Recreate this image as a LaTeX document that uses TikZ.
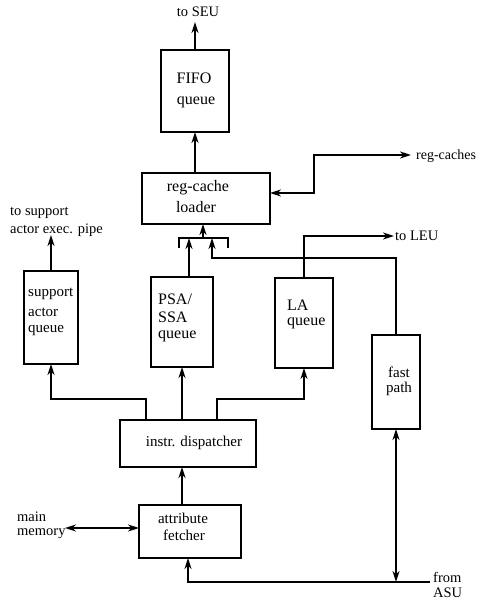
\documentclass[tikz,border=0pt]{standalone}
\usepackage{fontspec}
\setmainfont{Liberation Serif}
\usetikzlibrary{arrows.meta}
\begin{document}
\begin{tikzpicture}[x=1pt,y=-1pt,
  box/.style={draw,line width=1.2pt,inner sep=0pt,outer sep=0pt},
  wire/.style={line width=1.7pt},
  tip/.tip={Stealth[length=11pt,width=7pt,inset=3.5pt]},
  arr/.style={wire,-tip},
  darr/.style={wire,tip-tip},
  lbl/.style={font=\fontsize{#1}{#1}\selectfont,inner sep=0pt},
  lbl/.default=14.5]
\useasboundingbox (0,0) rectangle (481,601);

% processing blocks
\node[box,minimum width=68pt,minimum height=82pt]  (fifo)  at (195,91)    {};
\node[box,minimum width=128pt,minimum height=51pt] (rcl)   at (206,198.5) {};
\node[box,minimum width=54pt,minimum height=93pt]  (sup)   at (51,317.5)  {};
\node[box,minimum width=62pt,minimum height=90pt]  (psa)   at (182,322)   {};
\node[box,minimum width=58pt,minimum height=90pt]  (la)    at (304,323)   {};
\node[box,minimum width=48pt,minimum height=94pt]  (fast)  at (396,382)   {};
\node[box,minimum width=136pt,minimum height=47pt] (disp)  at (188,443.5) {};
\node[box,minimum width=102pt,minimum height=53pt] (fetch) at (190,531.5) {};

% block texts
\node[lbl=16] (t-fifo1) at (194,78)  {FIFO};
\node[lbl=16] (t-fifo2) at (196,102) {queue};
\node[lbl=16] (t-rcl1)  at (198,188) {reg-cache};
\node[lbl=16] (t-rcl2)  at (196,207) {loader};
\node[lbl=15,anchor=west] (t-sup1) at (28,294) {support};
\node[lbl=15,anchor=west] (t-sup2) at (28,312) {actor};
\node[lbl=15,anchor=west] (t-sup3) at (28,330) {queue};
\node[lbl=16,anchor=west] (t-psa1) at (158,299.5) {PSA/};
\node[lbl=16,anchor=west] (t-psa2) at (158,317) {SSA};
\node[lbl=16,anchor=west] (t-psa3) at (158,336.5) {queue};
\node[lbl=16,anchor=west] (t-la1)  at (287,305) {LA};
\node[lbl=16,anchor=west] (t-la2)  at (287,323) {queue};
\node[lbl=15] (t-fast1) at (399,372) {fast};
\node[lbl=15] (t-fast2) at (399,389) {path};
\node[lbl=15] (t-disp)  at (194,443) {instr. dispatcher};
\node[lbl=15] (t-fet1)  at (183,518.5) {attribute};
\node[lbl=15] (t-fet2)  at (184,535.5) {fetcher};

% external labels
\node[lbl] (t-seu) at (198,12) {to SEU};
\node[lbl=14,anchor=west] (t-rcs)  at (416,156) {reg-caches};
\node[lbl,anchor=west] (t-sp1)  at (10,213) {to support};
\node[lbl,anchor=west] (t-sp2)  at (10,230) {actor exec. pipe};
\node[lbl,anchor=west] (t-leu)  at (395,236) {to LEU};
\node[lbl,anchor=west] (t-mm1)  at (17,517) {main};
\node[lbl,anchor=west] (t-mm2)  at (17,534) {memory};
\node[lbl,anchor=west] (t-asu1) at (433,577) {from};
\node[lbl,anchor=west] (t-asu2) at (433,593) {ASU};

% connector end points and bends
\coordinate (seu)    at (195,22);
\coordinate (rc)     at (411,155);
\coordinate (rcbend) at (314,155);
\coordinate (barL)   at (179,238);
\coordinate (barR)   at (228,238);
\coordinate (barC)   at (203,238);
\coordinate (barP)   at (189,238);
\coordinate (barF)   at (212,238);
\coordinate (fbend)  at (212,258);
\coordinate (leu)    at (394,236);
\coordinate (supout) at (51,235);
\coordinate (busY)   at (0,399);
\coordinate (mm)     at (65,528);
\coordinate (asu)    at (430,582);

% upper half
\draw[arr] (fifo.north) -- (seu);
\draw[arr] (rcl.north -| fifo) -- (fifo.south);
\draw[darr] ([yshift=5.5pt]rcl.east) -| (rcbend) -- (rc);
\draw[wire] ([yshift=-10pt]barL) -- (barL) -- (barR) -- ([yshift=-10pt]barR);
\draw[arr] (barC) -- (rcl.south -| barC);
\draw[arr] (psa.north -| barP) -- (barP);
\draw[arr] (fast.north) |- (fbend) -- (barF);
\draw[arr] (la.north) |- (leu);
\draw[arr] (sup.north) -- (supout);

% dispatcher fan-out
\draw[arr] ([xshift=-42pt]disp.north) |- (sup.south |- busY) -- (sup.south);
\draw[arr] (disp.north -| psa) -- (psa.south);
\draw[arr] ([xshift=29pt]disp.north) |- (la.south |- busY) -- (la.south);

% lower half
\draw[arr] (fetch.north -| psa) -- (disp.south -| psa);
\draw[darr] ([yshift=3.5pt]fetch.west) -- (mm);
\draw[arr] (asu) -| ([xshift=-2pt]fetch.south);
\draw[darr] (fast.south) -- (fast.south |- asu);
\end{tikzpicture}
\end{document}
